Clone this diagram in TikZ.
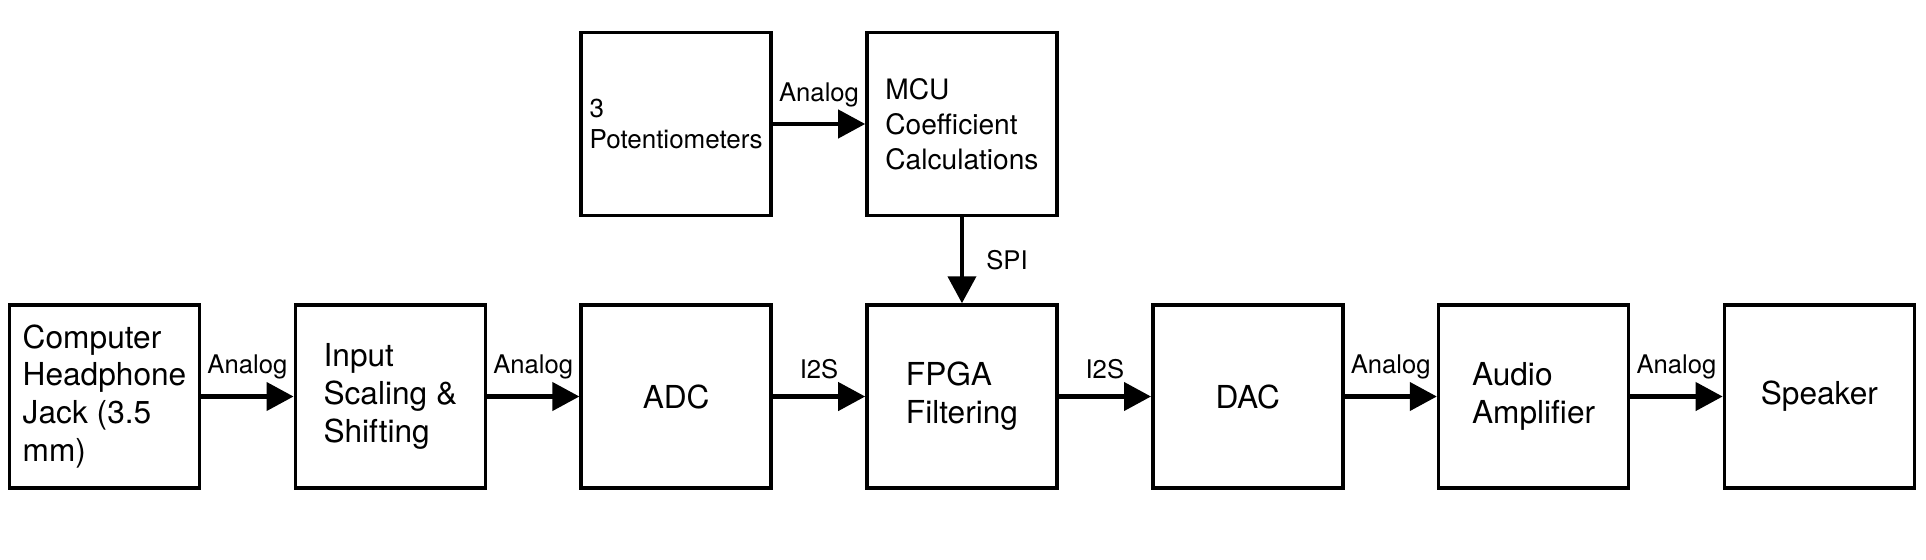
\documentclass[tikz,border=0pt]{standalone}
\usepackage{fontspec}
\setmainfont{TeX Gyre Heros}
\usetikzlibrary{positioning, arrows.meta}
\tikzset{
    block/.style = {draw, line width=1pt, minimum width=1.9cm, minimum height=1.83cm,
        inner sep=0pt, align=left, font=\fontsize{9}{10.8}\selectfont},
    sig/.style = {font=\fontsize{7.3}{8.8}\selectfont},
}

\begin{document}
\begin{tikzpicture}[line width=1.2pt, >={Triangle[length=0.27cm,width=0.28cm]}, node distance=0.923cm]
\useasboundingbox (0,0) rectangle (19.26,5.59);

% signal chain
\node[block] (jack) at (1.045,1.625) {Computer\\Headphone\\Jack (3.5\\mm)};
\node[block, right=of jack] (scale) {Input\\Scaling \&\\Shifting};
\node[block, right=of scale] (adc) {ADC};
\node[block, right=of adc] (fpga) {FPGA\\Filtering};
\node[block, right=of fpga] (dac) {DAC};
\node[block, right=of dac] (amp) {Audio\\Amplifier};
\node[block, right=of amp] (spk) {Speaker};

% control path
\node[block, above=0.86cm of adc, font=\fontsize{7.4}{8.7}\selectfont] (pot) {3\\Potentiometers};
\node[block, above=0.86cm of fpga, font=\fontsize{8}{9.9}\selectfont] (mcu) {MCU\\Coefficient\\Calculations};

\draw[->] (jack) -- node[sig, above=1pt] {Analog} (scale);
\draw[->] (scale) -- node[sig, above=1pt] {Analog} (adc);
\draw[->] (adc) -- node[sig, above=1pt] {I2S} (fpga);
\draw[->] (fpga) -- node[sig, above=1pt] {I2S} (dac);
\draw[->] (dac) -- node[sig, above=1pt] {Analog} (amp);
\draw[->] (amp) -- node[sig, above=1pt] {Analog} (spk);
\draw[->] (pot) -- node[sig, above=1pt] {Analog} (mcu);
\draw[->] (mcu) -- node[sig, right=3pt] {SPI} (fpga);
\end{tikzpicture}
\end{document}
